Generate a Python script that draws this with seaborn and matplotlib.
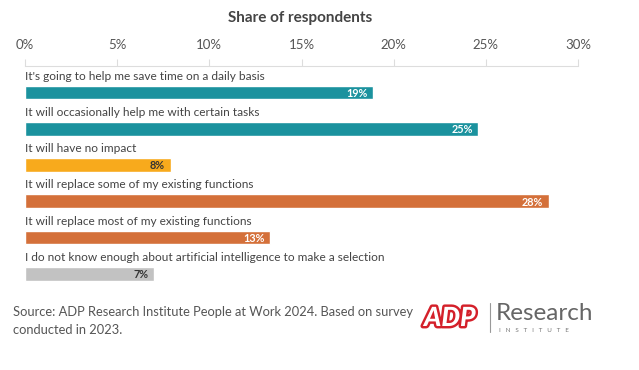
import matplotlib
matplotlib.use("Agg")
import matplotlib.pyplot as plt
import matplotlib.patheffects as pe
import seaborn as sns
import pandas as pd

categories = [
    "It's going to help me save time on a daily basis",
    "It will occasionally help me with certain tasks",
    "It will have no impact",
    "It will replace some of my existing functions",
    "It will replace most of my existing functions",
    "I do not know enough about artificial intelligence to make a selection",
]
values = [18.9, 24.6, 7.9, 28.4, 13.3, 7.0]
value_labels = ["19%", "25%", "8%", "28%", "13%", "7%"]
colors = ["#1b929e", "#1b929e", "#f8aa1c", "#d4703a", "#d4703a", "#c2c2c2"]
label_colors = ["white", "white", "#333333", "white", "white", "#333333"]
tick_values = [0, 5, 10, 15, 20, 25, 30]
tick_labels = ["0%", "5%", "10%", "15%", "20%", "25%", "30%"]

sns.set_style("white")
plt.rcParams["font.family"] = ["Lato", "DejaVu Sans"]

df = pd.DataFrame({"cat": categories, "val": values})

fig = plt.figure(figsize=(6.39, 3.70), dpi=100)
ax = fig.add_axes([25 / 639, 1 - 292 / 370, 553 / 639, (292 - 66) / 370])

sns.barplot(data=df, x="val", y="cat", hue="cat", palette=colors, legend=False,
            orient="h", width=0.38, ax=ax, saturation=1)

ax.set_xlim(0, 30)
ax.set_ylim(5.5, -0.73)
ax.xaxis.tick_top()
ax.set_xticks(tick_values)
ax.set_xticklabels(tick_labels, fontsize=9.5, color="#555555")
ax.tick_params(axis="x", direction="out", length=5, color="#dddddd", width=0.8, pad=6)
ax.set_yticks([])
ax.set_xlabel("")
ax.set_ylabel("")
for s in ["left", "right", "bottom"]:
    ax.spines[s].set_visible(False)
ax.spines["top"].set_color("#dddddd")
ax.spines["top"].set_linewidth(0.8)

for i, (cat, v, lab, lc) in enumerate(zip(categories, values, value_labels, label_colors)):
    ax.text(0, i - 0.45, cat, ha="left", va="center", fontsize=8.6, color="#444444")
    ax.text(v - 0.3, i + 0.02, lab, ha="right", va="center", fontsize=7.8,
            fontweight="bold", color=lc)

fig.text(300 / 639, 1 - 18 / 370, "Share of respondents", ha="center", va="center",
         fontsize=11, fontweight="bold", color="#444444")

fig.text(13 / 639, 1 - 312 / 370, "Source: ADP Research Institute People at Work 2024. Based on survey",
         ha="left", va="center", fontsize=9.3, color="#555555")
fig.text(13 / 639, 1 - 330 / 370, "conducted in 2023.",
         ha="left", va="center", fontsize=9.3, color="#555555")

# logo as text
fig.text(424 / 639, 1 - 318 / 370, "ADP", ha="left", va="center", fontsize=19,
         fontweight="black", fontstyle="italic", color="white",
         path_effects=[pe.withStroke(linewidth=3.5, foreground="#d4202a")])
fig.add_artist(plt.Line2D([490 / 639, 490 / 639], [1 - 303 / 370, 1 - 332 / 370],
                          color="#999999", linewidth=0.8))
fig.text(496 / 639, 1 - 314 / 370, "Research", ha="left", va="center", fontsize=17.5,
         color="#666666")
fig.text(499 / 639, 1 - 330 / 370, "I   N   S   T   I   T   U   T   E", ha="left", va="center",
         fontsize=4.5, color="#777777")

fig.savefig("out.png", dpi=100, facecolor="white")
